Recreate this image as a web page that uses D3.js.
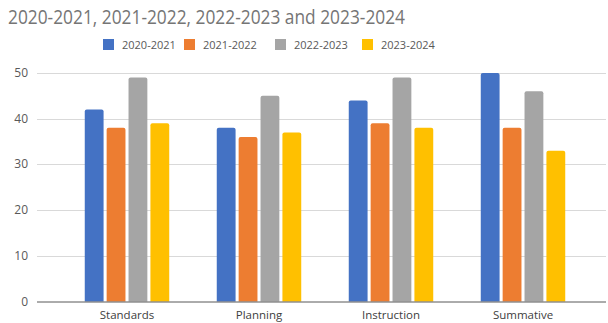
<!DOCTYPE html>
<html>
<head>
<meta charset="utf-8">
<script src="https://cdn.jsdelivr.net/npm/d3@7"></script>
<style>
  html, body { margin: 0; padding: 0; background: #fff; }
  svg { display: block; font-family: "Open Sans", "Noto Sans", sans-serif; }
</style>
</head>
<body>
<svg id="chart" width="608" height="323"></svg>
<script>
const categories = ["Standards", "Planning", "Instruction", "Summative"];
const seriesNames = ["2020-2021", "2021-2022", "2022-2023", "2023-2024"];
const values2020 = [42, 38, 44, 50];
const values2021 = [38, 36, 39, 38];
const values2022 = [49, 45, 49, 46];
const values2023 = [39, 37, 38, 33];
const yTicks = [0, 10, 20, 30, 40, 50];
const colors = ["#4472C4", "#ED7D31", "#A5A5A5", "#FFC000"];

const seriesValues = [values2020, values2021, values2022, values2023];

const svg = d3.select("#chart");

// Title
svg.append("text")
  .attr("x", 8).attr("y", 24)
  .attr("font-size", 20)
  .attr("fill", "#757575")
  .attr("textLength", 397)
  .attr("lengthAdjust", "spacingAndGlyphs")
  .text("2020-2021, 2021-2022, 2022-2023 and 2023-2024");

// Scales
const y = d3.scaleLinear().domain([0, 50]).range([301.5, 73]);
const x0 = d3.scaleBand().domain(categories).range([61, 589]).paddingInner(0.36).paddingOuter(0.18);
const x1 = d3.scaleBand().domain(seriesNames).range([0, x0.bandwidth()]).paddingInner(0.14);

// Gridlines
svg.append("g")
  .selectAll("line")
  .data(yTicks.filter(d => d !== 0))
  .join("line")
  .attr("x1", 37).attr("x2", 606)
  .attr("y1", d => Math.round(y(d)) + 0.5)
  .attr("y2", d => Math.round(y(d)) + 0.5)
  .attr("stroke", "#d9d9d9")
  .attr("stroke-width", 1);

// Y axis labels
svg.append("g")
  .selectAll("text")
  .data(yTicks)
  .join("text")
  .attr("x", 28)
  .attr("y", d => y(d) + 4)
  .attr("text-anchor", "end")
  .attr("font-size", 12)
  .attr("fill", "#595959")
  .text(d => d);

// Bars
const groups = svg.append("g")
  .selectAll("g")
  .data(categories)
  .join("g")
  .attr("transform", c => `translate(${x0(c)},0)`);

groups.selectAll("path")
  .data((c, i) => seriesNames.map((s, j) => ({ s, v: seriesValues[j][i], j })))
  .join("path")
  .attr("fill", d => colors[d.j])
  .attr("d", d => {
    const bx = x1(d.s), bw = x1.bandwidth();
    const top = y(d.v), bottom = y(0), r = 2;
    return `M${bx},${bottom} L${bx},${top + r} Q${bx},${top} ${bx + r},${top} L${bx + bw - r},${top} Q${bx + bw},${top} ${bx + bw},${top + r} L${bx + bw},${bottom} Z`;
  });

// Baseline
svg.append("line")
  .attr("x1", 37).attr("x2", 606)
  .attr("y1", y(0) + 0.5).attr("y2", y(0) + 0.5)
  .attr("stroke", "#595959")
  .attr("stroke-width", 1);

// Category labels
svg.append("g")
  .selectAll("text")
  .data(categories)
  .join("text")
  .attr("x", c => x0(c) + x0.bandwidth() / 2)
  .attr("y", 319)
  .attr("text-anchor", "middle")
  .attr("font-size", 11.5)
  .attr("fill", "#404040")
  .text(c => c);

// Legend
const legendX = [103, 184, 275, 362];
const legend = svg.append("g")
  .selectAll("g")
  .data(seriesNames)
  .join("g")
  .attr("transform", (d, i) => `translate(${legendX[i]},39)`);
legend.append("rect")
  .attr("width", 11).attr("height", 11)
  .attr("fill", (d, i) => colors[i]);
legend.append("text")
  .attr("x", 19).attr("y", 10)
  .attr("font-size", 11)
  .attr("fill", "#595959")
  .text(d => d);
</script>
</body>
</html>
